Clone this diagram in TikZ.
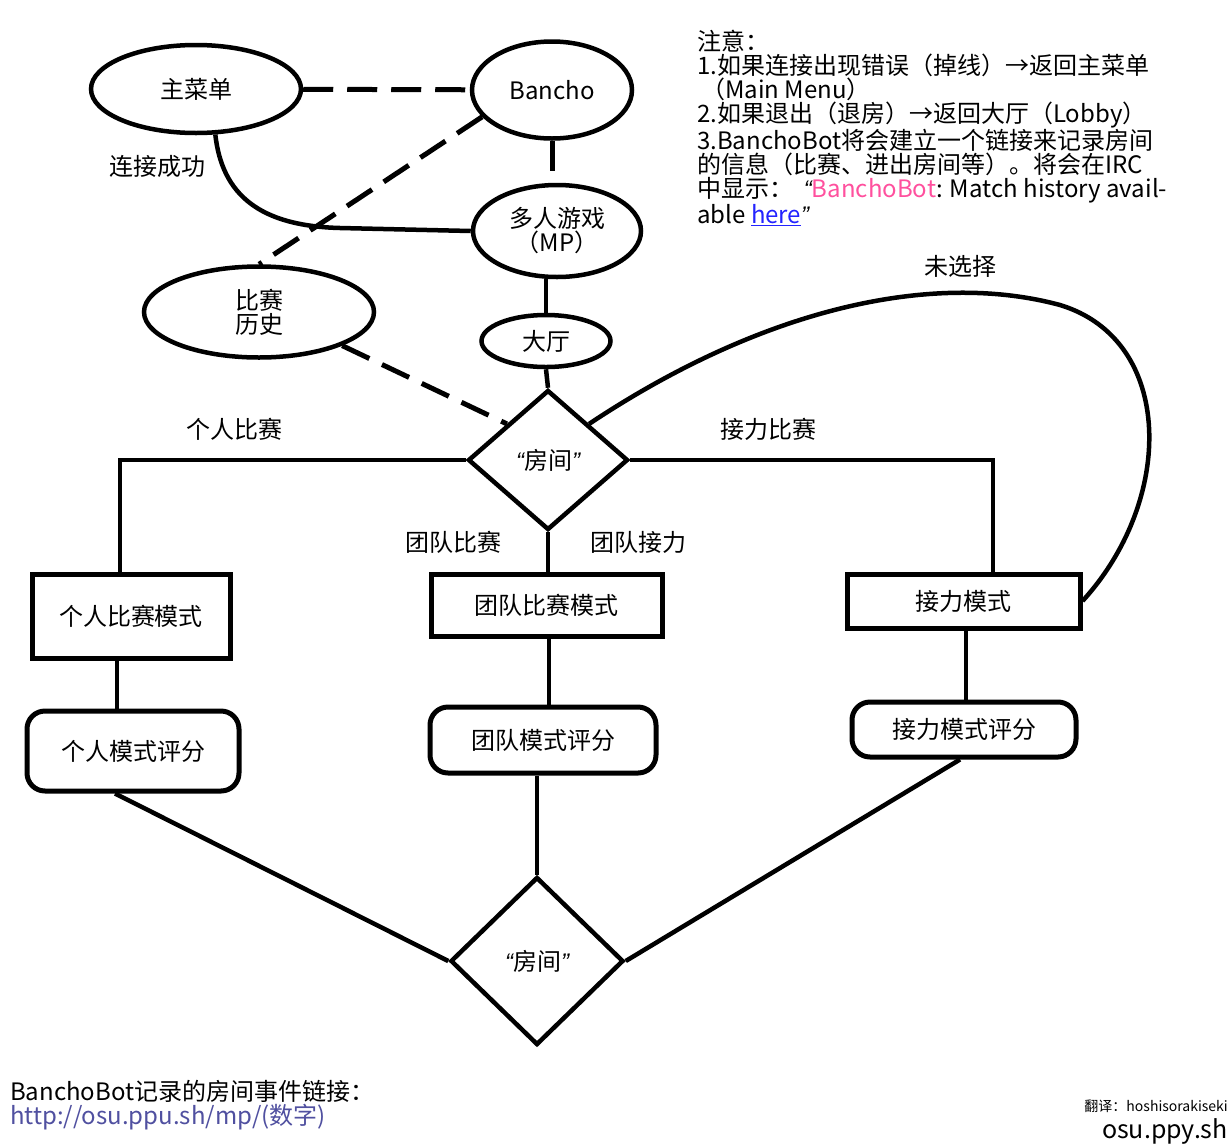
\documentclass[tikz,border=0pt]{standalone}
\usepackage{fontspec}
\setmainfont{Noto Sans CJK SC}
\newfontfamily\qfont{Liberation Sans}
\usetikzlibrary{shapes.geometric}
\newcommand\myoq{{\qfont\itshape “}}
\newcommand\mycq{{\qfont\itshape ”}}
\definecolor{pinkbot}{RGB}{255,80,158}
\definecolor{linkblue}{RGB}{35,35,255}
\definecolor{urlblue}{RGB}{80,80,160}
\tikzset{
  txt/.style={font=\fontsize{24}{24}\selectfont},
  ell/.style={ellipse, draw, line width=4.5pt, inner sep=0pt, align=center, txt},
  box/.style={rectangle, draw, line width=5pt, inner sep=0pt, txt},
  rbox/.style={box, rounded corners=18pt},
  dia/.style={diamond, draw, line width=4.5pt, inner sep=0pt, txt},
  lab/.style={inner sep=0pt, txt},
  conn/.style={line width=4.5pt},
  dconn/.style={line width=5pt, dash pattern=on 30pt off 14pt}
}
\begin{document}
\begin{tikzpicture}[x=1pt,y=-1pt]
\path[use as bounding box, fill=white] (0,0) rectangle (1232,1144);

% ellipses
\node[ell, minimum width=210pt, minimum height=88pt] (main) at (196,89) {主菜单};
\node[ell, minimum width=160pt, minimum height=97pt] (bancho) at (552,90) {Bancho};
\node[ell, minimum width=168pt, minimum height=92pt] (mp) at (557,231) {多人游戏\\（MP）};
\node[ell, minimum width=230pt, minimum height=91pt] (hist) at (259,312) {比赛\\历史};
\node[ell, minimum width=129pt, minimum height=52pt] (lobby) at (546,341) {大厅};

% diamonds
\node[dia, minimum width=160pt, minimum height=140pt] (room) at (548,460) {\myoq 房间\mycq};
\node[dia, minimum width=173pt, minimum height=168pt] (bot) at (537,961) {\myoq 房间\mycq};

% boxes
\node[box, minimum width=198pt, minimum height=84pt] (r1) at (131,616) {个人比赛模式};
\node[box, minimum width=231pt, minimum height=62pt] (r2) at (546.5,605) {团队比赛模式};
\node[box, minimum width=233pt, minimum height=54pt] (r3) at (963.5,601) {接力模式};
\node[rbox, minimum width=212pt, minimum height=80pt] (s1) at (133,751) {个人模式评分};
\node[rbox, minimum width=226pt, minimum height=66pt] (s2) at (543,740) {团队模式评分};
\node[rbox, minimum width=224pt, minimum height=55pt] (s3) at (964,729.5) {接力模式评分};

% labels
\node[lab] (l1) at (157,166) {连接成功};
\node[lab] (l2) at (234,429) {个人比赛};
\node[lab] (l3) at (768,429) {接力比赛};
\node[lab] (l4) at (453,542) {团队比赛};
\node[lab] (l5) at (638,542) {团队接力};
\node[lab] (l6) at (960,266) {未选择};

% dashed connectors
\draw[dconn] (main) -- (bancho);
\draw[dconn] (bancho.south) -- (bancho.south |- mp.north);
\draw[dconn] (bancho.201) -- (hist.north);
\draw[dconn] (hist.-22) -- (room.north west);

% solid connectors
\draw[conn] (main.-67) .. controls (222,195) and (260,226) .. (340,228) -- (mp.west);
\draw[conn] (lobby.north) -- (lobby.north |- mp.south);
\draw[conn] (lobby.south) -- (room.north);
\draw[conn] (room.west) -| ([xshift=-11pt]r1.north);
\draw[conn] (room.east) -| ([xshift=29.5pt]r3.north);
\draw[conn] (room.south) -- (room.south |- r2.north);
\draw[conn] (room.north east) .. controls (760,310) and (930,270) .. (1060,305)
  .. controls (1175,340) and (1175,500) .. (r3.east);
\draw[conn] ([xshift=-14pt]r1.south) -- ([xshift=-14pt]r1.south |- s1.north);
\draw[conn] ([xshift=2.5pt]r2.south) -- ([xshift=2.5pt]r2.south |- s2.north);
\draw[conn] ([xshift=2.5pt]r3.south) -- ([xshift=2.5pt]r3.south |- s3.north);
\draw[conn] ([xshift=-18pt]s1.south) -- (bot.west);
\draw[conn] (bot.north |- s2.south) -- (bot.north);
\draw[conn] ([xshift=-4pt]s3.south) -- (bot.east);

% notes
\node[anchor=north west, align=left, inner sep=0pt, font=\fontsize{24}{24}\selectfont] (notes) at (697,30) {%
注意：\\
1.如果连接出现错误（掉线）→返回主菜单\\
\,（Main Menu）\\
2.如果退出（退房）→返回大厅（Lobby）\\
3.BanchoBot将会建立一个链接来记录房间\\
的信息（比赛、进出房间等）。将会在IRC\\
中显示：\ \ \myoq\textcolor{pinkbot}{BanchoBot}: Match history avail-\\
able \textcolor{linkblue}{\underline{here}}\mycq};

% bottom texts
\node[anchor=north west, align=left, inner sep=0pt, font=\fontsize{24}{24}\selectfont] (link) at (10,1080) {%
BanchoBot记录的房间事件链接：\\
\textcolor{urlblue}{http://osu.ppu.sh/mp/(数字)}};
\node[anchor=east, inner sep=0pt, font=\fontsize{14}{14}\selectfont] (trans) at (1228,1106) {翻译：hoshisorakiseki};
\node[anchor=east, inner sep=0pt, font=\fontsize{25}{25}\selectfont] (site) at (1228,1131) {osu.ppy.sh};
\end{tikzpicture}
\end{document}
